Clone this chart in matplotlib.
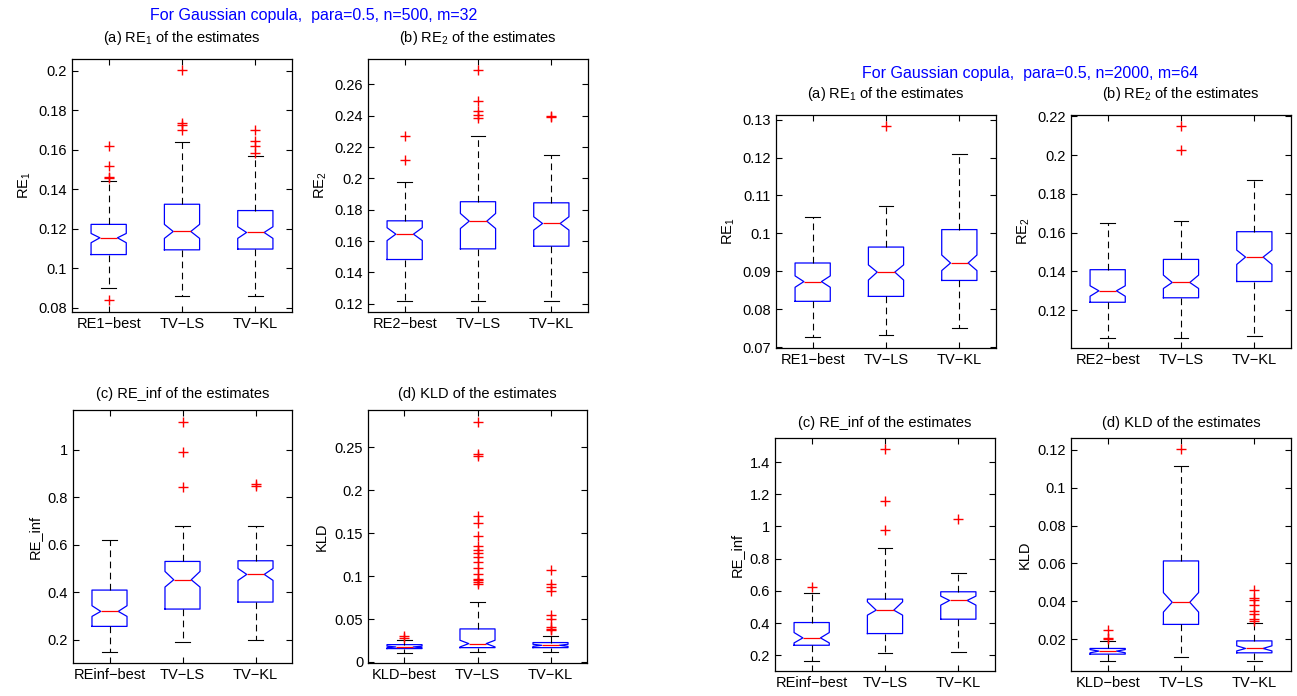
import matplotlib.pyplot as plt
from matplotlib.ticker import FormatStrFormatter
import numpy as np

plt.rcParams['font.family'] = ['Liberation Sans', 'DejaVu Sans']
plt.rcParams['mathtext.fontset'] = 'custom'
plt.rcParams['mathtext.rm'] = 'Liberation Sans'
plt.rcParams['mathtext.it'] = 'Liberation Sans:italic'
plt.rcParams['mathtext.bf'] = 'Liberation Sans:bold'
plt.rcParams['mathtext.default'] = 'regular'

MINUS = '\u2212'

# box stats per method: [whislo, q1, cilo, med, cihi, q3, whishi]
# ---- n=500, m=32 ----
names_re1 = ['RE1' + MINUS + 'best', 'TV' + MINUS + 'LS', 'TV' + MINUS + 'KL']
names_re2 = ['RE2' + MINUS + 'best', 'TV' + MINUS + 'LS', 'TV' + MINUS + 'KL']
names_inf = ['REinf' + MINUS + 'best', 'TV' + MINUS + 'LS', 'TV' + MINUS + 'KL']
names_kld = ['KLD' + MINUS + 'best', 'TV' + MINUS + 'LS', 'TV' + MINUS + 'KL']

n500_re1 = [[0.0900, 0.1069, 0.1129, 0.1154, 0.1176, 0.1222, 0.1441],
            [0.0861, 0.1093, 0.1151, 0.1186, 0.1222, 0.1324, 0.1639],
            [0.0861, 0.1097, 0.1151, 0.1181, 0.1210, 0.1292, 0.1568]]
n500_re1_out = [[0.162, 0.152, 0.1464, 0.1459, 0.0837],
                [0.2003, 0.1736, 0.1724, 0.1702],
                [0.170, 0.1642, 0.1617, 0.1586]]

n500_re2 = [[0.1219, 0.1482, 0.1603, 0.1644, 0.1685, 0.1729, 0.1979],
            [0.1219, 0.1550, 0.1680, 0.1727, 0.1776, 0.1851, 0.2273],
            [0.1219, 0.1567, 0.1670, 0.1712, 0.1755, 0.1844, 0.2147]]
n500_re2_out = [[0.2271, 0.2118],
                [0.2691, 0.2491, 0.2427, 0.2406, 0.2384],
                [0.2399, 0.2389]]

n500_inf = [[0.148, 0.2561, 0.2982, 0.3193, 0.3432, 0.4091, 0.6182],
            [0.1888, 0.3291, 0.4218, 0.4526, 0.4877, 0.5298, 0.6772],
            [0.1972, 0.3586, 0.4498, 0.4751, 0.5003, 0.5326, 0.6772]]
n500_inf_out = [[],
                [1.1165, 0.9902, 0.8456],
                [0.8554, 0.8484]]

n500_kld = [[0.0109, 0.0156, 0.0166, 0.0175, 0.0184, 0.0202, 0.0253],
            [0.0117, 0.0167, 0.0175, 0.0214, 0.0253, 0.0385, 0.0700],
            [0.0117, 0.0167, 0.0182, 0.0194, 0.0206, 0.0226, 0.0299]]
n500_kld_out = [[0.0303, 0.0280],
                [0.2792, 0.2422, 0.2403, 0.1703, 0.1614, 0.1466, 0.1349, 0.1303,
                 0.1271, 0.1225, 0.1166, 0.1089, 0.1030, 0.0972, 0.0953, 0.0933, 0.0914],
                [0.1069, 0.0914, 0.0875, 0.0828, 0.0544, 0.0505, 0.0408, 0.0389, 0.0377]]

# ---- n=2000, m=64 ----
n2000_re1 = [[0.0726, 0.0821, 0.0858, 0.0873, 0.0888, 0.0922, 0.1042],
             [0.0731, 0.0834, 0.0877, 0.0898, 0.0917, 0.0964, 0.1073],
             [0.0750, 0.0876, 0.0902, 0.0922, 0.0943, 0.1010, 0.1210]]
n2000_re1_out = [[], [0.1283], []]

n2000_re2 = [[0.1059, 0.1241, 0.1272, 0.1300, 0.1326, 0.1409, 0.1650],
             [0.1059, 0.1264, 0.1312, 0.1343, 0.1381, 0.1462, 0.1660],
             [0.1066, 0.1348, 0.1436, 0.1474, 0.1510, 0.1605, 0.1874]]
n2000_re2_out = [[], [0.2150, 0.2026], []]

n2000_inf = [[0.1668, 0.2623, 0.2768, 0.3080, 0.3412, 0.4034, 0.5841],
             [0.2166, 0.3349, 0.4491, 0.4803, 0.5322, 0.5488, 0.8685],
             [0.2208, 0.4242, 0.5114, 0.5405, 0.5675, 0.5944, 0.7128]]
n2000_inf_out = [[0.6214], [1.481, 1.159, 0.9785], [1.0450]]

n2000_kld = [[0.0087, 0.0121, 0.0128, 0.0137, 0.0145, 0.0151, 0.0191],
             [0.0105, 0.0278, 0.0343, 0.0395, 0.0446, 0.0613, 0.1112],
             [0.0087, 0.0128, 0.0138, 0.0151, 0.0165, 0.0191, 0.0286]]
n2000_kld_out = [[0.0247, 0.0205, 0.0200],
                 [0.1204],
                 [0.0459, 0.0420, 0.0406, 0.0379, 0.0348, 0.0332, 0.0309, 0.0297]]

W, H = 1297, 696
fig = plt.figure(figsize=(W / 100, H / 100), dpi=100)
FS = 10.5


def px(x0, x1, y0, y1):
    return [x0 / W, 1 - y1 / H, (x1 - x0) / W, (y1 - y0) / H]


def panel(rect, stats, outs, names, title, ylabel, yticks, ylim, pad):
    ax = fig.add_axes(rect)
    bs = []
    for s, f, nm in zip(stats, outs, names):
        lo, q1, cilo, med, cihi, q3, hi = s
        bs.append(dict(whislo=lo, q1=q1, cilo=cilo, med=med, cihi=cihi,
                       q3=q3, whishi=hi, fliers=f, label=nm))
    ax.bxp(bs, widths=0.48, capwidths=0.2, shownotches=True, showfliers=True,
           boxprops=dict(color='blue', lw=0.9),
           medianprops=dict(color='red', lw=0.9),
           whiskerprops=dict(color='black', lw=0.8, linestyle=(0, (6, 4))),
           capprops=dict(color='black', lw=0.8),
           flierprops=dict(marker='+', markeredgecolor='red', markersize=6.5,
                           linestyle='none'))
    ax.set_xlim(0.5, 3.5)
    ax.set_ylim(*ylim)
    ax.set_yticks(yticks)
    ax.yaxis.set_major_formatter(FormatStrFormatter('%g'))
    ax.tick_params(direction='in', top=True, right=True, length=4,
                   labelsize=FS, width=0.8)
    ax.set_title(title, fontsize=FS, pad=pad)
    ax.set_ylabel(ylabel, fontsize=FS)
    for sp in ax.spines.values():
        sp.set_linewidth(0.9)
    return ax


# left block: n=500
panel(px(72, 292, 59, 312), n500_re1, n500_re1_out, names_re1,
      '(a) RE$_1$ of the estimates', 'RE$_1$',
      np.arange(0.08, 0.201, 0.02), (0.0778, 0.206), 12)
panel(px(368, 588, 59, 312), n500_re2, n500_re2_out, names_re2,
      '(b) RE$_2$ of the estimates', 'RE$_2$',
      np.arange(0.12, 0.261, 0.02), (0.1147, 0.2762), 12)
panel(px(73, 292, 410, 663), n500_inf, n500_inf_out, names_inf,
      '(c) RE_inf of the estimates', 'RE_inf',
      np.arange(0.2, 1.01, 0.2), (0.1018, 1.168), 8.5)
panel(px(368, 587, 410, 663), n500_kld, n500_kld_out, names_kld,
      '(d) KLD of the estimates', 'KLD',
      np.arange(0, 0.251, 0.05), (-0.0012, 0.2935), 8.5)

# right block: n=2000
panel(px(776, 996, 115, 348), n2000_re1, n2000_re1_out, names_re1,
      '(a) RE$_1$ of the estimates', 'RE$_1$',
      np.arange(0.07, 0.131, 0.01), (0.0698, 0.1312), 12)
panel(px(1071, 1291, 115, 348), n2000_re2, n2000_re2_out, names_re2,
      '(b) RE$_2$ of the estimates', 'RE$_2$',
      np.arange(0.12, 0.221, 0.02), (0.1005, 0.2207), 12)
panel(px(775, 995, 438, 671), n2000_inf, n2000_inf_out, names_inf,
      '(c) RE_inf of the estimates', 'RE_inf',
      np.arange(0.2, 1.41, 0.2), (0.1024, 1.5495), 8)
panel(px(1071, 1291, 438, 671), n2000_kld, n2000_kld_out, names_kld,
      '(d) KLD of the estimates', 'KLD',
      np.arange(0.02, 0.121, 0.02), (0.0032, 0.1262), 8)

fig.text(314 / W, 1 - 20 / H, 'For Gaussian copula,  para=0.5, n=500, m=32',
         color='blue', fontsize=11.5, ha='center', va='baseline')
fig.text(1030 / W, 1 - 78 / H, 'For Gaussian copula,  para=0.5, n=2000, m=64',
         color='blue', fontsize=11.5, ha='center', va='baseline')

fig.savefig('out.png', dpi=100)
